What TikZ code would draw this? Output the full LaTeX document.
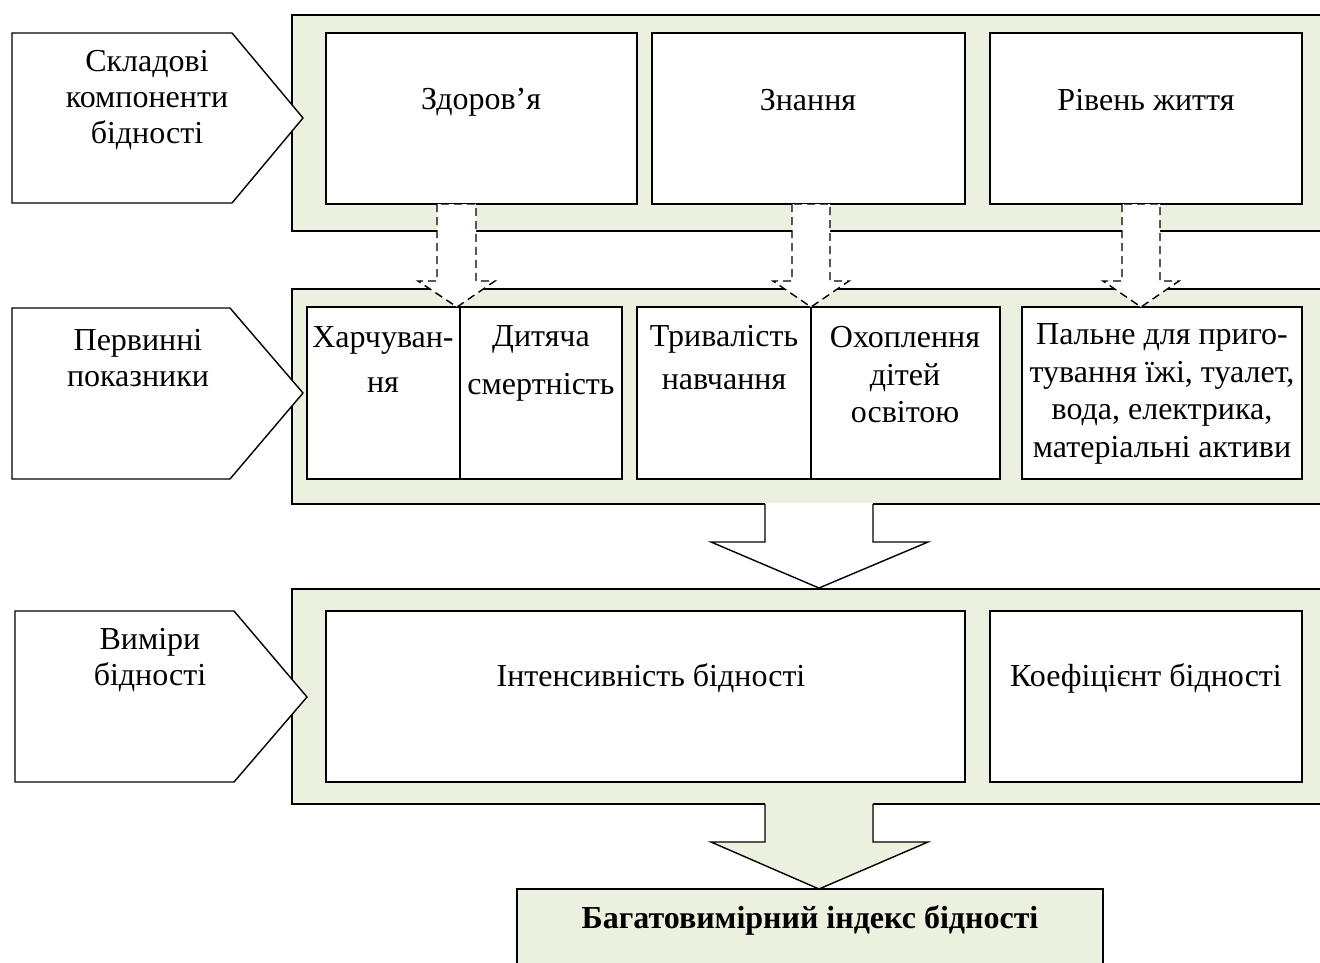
\documentclass[tikz,border=0pt]{standalone}
\usepackage{fontspec}
\setmainfont{Liberation Serif}
\definecolor{panelgreen}{RGB}{235,241,222}
\begin{document}
\begin{tikzpicture}[x=1pt,y=-1pt,
  panel/.style={draw=black,line width=1.6pt,fill=panelgreen},
  box/.style={draw=black,line width=1.4pt,fill=white},
  tag/.style={draw=black,line width=1.4pt,fill=white},
  txt/.style={inner sep=0pt,align=center,font=\fontsize{32}{36}\selectfont},
  dasharrow/.style={draw=black,line width=1.4pt,fill=white,dash pattern=on 8pt off 5pt},
  blockarrow/.style={draw=black,line width=1.4pt,line join=miter}
]
\useasboundingbox (0,0) rectangle (1320,963);
\clip (0,0) rectangle (1320,963);
\fill[white] (0,0) rectangle (1320,963);

% panels
\draw[panel] (292,15) rectangle (1335,231);
\draw[panel] (292,289) rectangle (1335,504);
\draw[panel] (292,589) rectangle (1335,804);

% left tags
\draw[tag] (12,33) -- (232,33) -- (303,118) -- (232,203) -- (12,203) -- cycle;
\draw[tag] (12,308) -- (230,308) -- (303,393) -- (230,479) -- (12,479) -- cycle;
\draw[tag] (15,611) -- (234,611) -- (307,697) -- (234,782) -- (15,782) -- cycle;
\node[txt] (tp1) at (147,100) {Складові\\компоненти\\бідності};
\node[txt] (tp2) at (138,358) {Первинні\\показники};
\node[txt] (tp3) at (150,660) {Виміри\\бідності};

% row 1
\draw[box] (326,33) rectangle (637,204);
\draw[box] (652,33) rectangle (965,204);
\draw[box] (990,33) rectangle (1302,204);
\node[txt] (t11) at (481,102) {Здоров’я};
\node[txt] (t12) at (808,100) {Знання};
\node[txt] (t13) at (1146,100) {Рівень життя};

% row 2
\draw[box] (307,307) rectangle (460,479);
\draw[box] (460,307) rectangle (622,479);
\draw[box] (637,307) rectangle (811,479);
\draw[box] (811,307) rectangle (1000,479);
\draw[box] (1022,307) rectangle (1302,479);
\node[txt,font=\fontsize{32}{45}\selectfont] (t21) at (383,360) {Харчуван-\\ня};
\node[txt,font=\fontsize{32}{48}\selectfont] (t22) at (541,363) {Дитяча\\смертність};
\node[txt,font=\fontsize{32}{43}\selectfont] (t23) at (724,358) {Тривалість\\навчання};
\node[txt,font=\fontsize{32}{37.5}\selectfont] (t24) at (905,375) {Охоплення\\дітей\\освітою};
\node[txt,font=\fontsize{32}{37.5}\selectfont] (t25) at (1162,394) {Пальне для приго-\\тування їжі, туалет,\\вода, електрика,\\матеріальні активи};

% row 3
\draw[box] (326,611) rectangle (965,782);
\draw[box] (990,611) rectangle (1302,782);
\node[txt] (t31) at (651,678) {Інтенсивність бідності};
\node[txt] (t32) at (1146,678) {Коефіцієнт бідності};

% final box
\draw[panel] (517,889) rectangle (1103,990);
\node[txt,font=\fontsize{32}{36}\selectfont\bfseries] (t4) at (810,920) {Багатовимірний індекс бідності};

% dashed arrows
\draw[dasharrow] (437,204) -- (437,281) -- (418,281) -- (457,307) -- (495,281) -- (476,281) -- (476,204) -- cycle;
\draw[dasharrow] (792,204) -- (792,281) -- (773,281) -- (811,307) -- (849,281) -- (830,281) -- (830,204) -- cycle;
\draw[dasharrow] (1122,204) -- (1122,281) -- (1103,281) -- (1141,307) -- (1179,281) -- (1160,281) -- (1160,204) -- cycle;

% block arrows
\fill[white] (765,503) -- (765,542) -- (711,542) -- (819,588) -- (928,542) -- (873,542) -- (873,503) -- cycle;
\draw[blockarrow] (765,504) -- (765,542) -- (711,542) -- (819,588) -- (928,542) -- (873,542) -- (873,504);
\fill[panelgreen] (765,803) -- (765,842) -- (711,842) -- (819,889) -- (928,842) -- (873,842) -- (873,803) -- cycle;
\draw[blockarrow] (765,804) -- (765,842) -- (711,842) -- (819,889) -- (928,842) -- (873,842) -- (873,804);
\end{tikzpicture}
\end{document}
